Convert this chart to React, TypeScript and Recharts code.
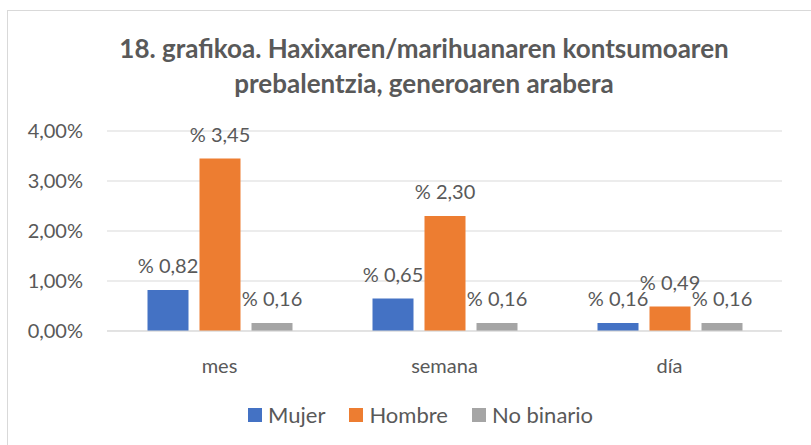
import { Bar, BarChart, CartesianGrid, LabelList, XAxis, YAxis } from "recharts";

const categories = ["mes", "semana", "día"];
const mujer = [0.82, 0.65, 0.16];
const hombre = [3.45, 2.3, 0.49];
const noBinario = [0.16, 0.16, 0.16];
const yTicks = [0, 1, 2, 3, 4];

const series = [
  { key: "mujer", name: "Mujer", color: "#4472c4" },
  { key: "hombre", name: "Hombre", color: "#ed7d31" },
  { key: "noBinario", name: "No binario", color: "#a5a5a5" },
];

const data = categories.map((name, i) => ({
  name,
  mujer: mujer[i],
  hombre: hombre[i],
  noBinario: noBinario[i],
}));

const FONT = "Lato, 'Open Sans', sans-serif";
const TEXT = "#595959";

const comma = (v: number) => v.toFixed(2).replace(".", ",");

function ValueLabel(props: any) {
  const { x, y, width, value } = props;
  return (
    <text
      x={Number(x) + Number(width) / 2}
      y={Number(y) - 17}
      textAnchor="middle"
      fill={TEXT}
      fontSize={20}
      fontFamily={FONT}
    >
      {`% ${comma(Number(value))}`}
    </text>
  );
}

function App() {
  return (
    <div style={{ position: "absolute", left: 0, top: 0, width: 811, height: 445, overflow: "hidden", background: "#fff", fontFamily: FONT }}>
      <div
        style={{
          position: "absolute",
          left: 7,
          top: 10,
          width: 900,
          height: 600,
          borderLeft: "1.5px solid #d9d9d9",
          borderTop: "1.5px solid #d9d9d9",
        }}
      />
      <div
        style={{
          position: "absolute",
          left: 0,
          top: 31,
          width: 848,
          textAlign: "center",
          color: TEXT,
          fontWeight: 700,
          fontSize: 26,
          lineHeight: "35px",
        }}
      >
        18. grafikoa. Haxixaren/marihuanaren kontsumoaren
        <br />
        prebalentzia, generoaren arabera
      </div>
      <div style={{ position: "absolute", left: 0, top: 0 }}>
        <BarChart
          width={811}
          height={445}
          data={data}
          margin={{ top: 131, right: 29, left: 0, bottom: 50 }}
          barCategoryGap="18%"
          barGap={11}
        >
          <CartesianGrid vertical={false} stroke="#d9d9d9" />
          <XAxis
            dataKey="name"
            tickLine={false}
            axisLine={{ stroke: "#d9d9d9" }}
            tick={{ fill: TEXT, fontSize: 20, fontFamily: FONT }}
            tickMargin={22}
            height={64}
          />
          <YAxis
            width={107}
            domain={[0, 4]}
            ticks={yTicks}
            tickLine={false}
            axisLine={false}
            tickMargin={18}
            tick={{ fill: TEXT, fontSize: 20, fontFamily: FONT }}
            tickFormatter={(v) => `${comma(Number(v))}%`}
          />
          {series.map((s) => (
            <Bar key={s.key} dataKey={s.key} name={s.name} fill={s.color} isAnimationActive={false}>
              <LabelList dataKey={s.key} content={<ValueLabel />} />
            </Bar>
          ))}
        </BarChart>
      </div>
      <div
        style={{
          position: "absolute",
          left: 248,
          top: 401,
          display: "flex",
          gap: 24,
          fontSize: 22,
          color: TEXT,
          lineHeight: "28px",
        }}
      >
        {series.map((s) => (
          <div key={s.key} style={{ display: "flex", alignItems: "center" }}>
            <span style={{ display: "inline-block", width: 14, height: 14, background: s.color, marginRight: 6 }} />
            {s.name}
          </div>
        ))}
      </div>
    </div>
  );
}

export default App;
